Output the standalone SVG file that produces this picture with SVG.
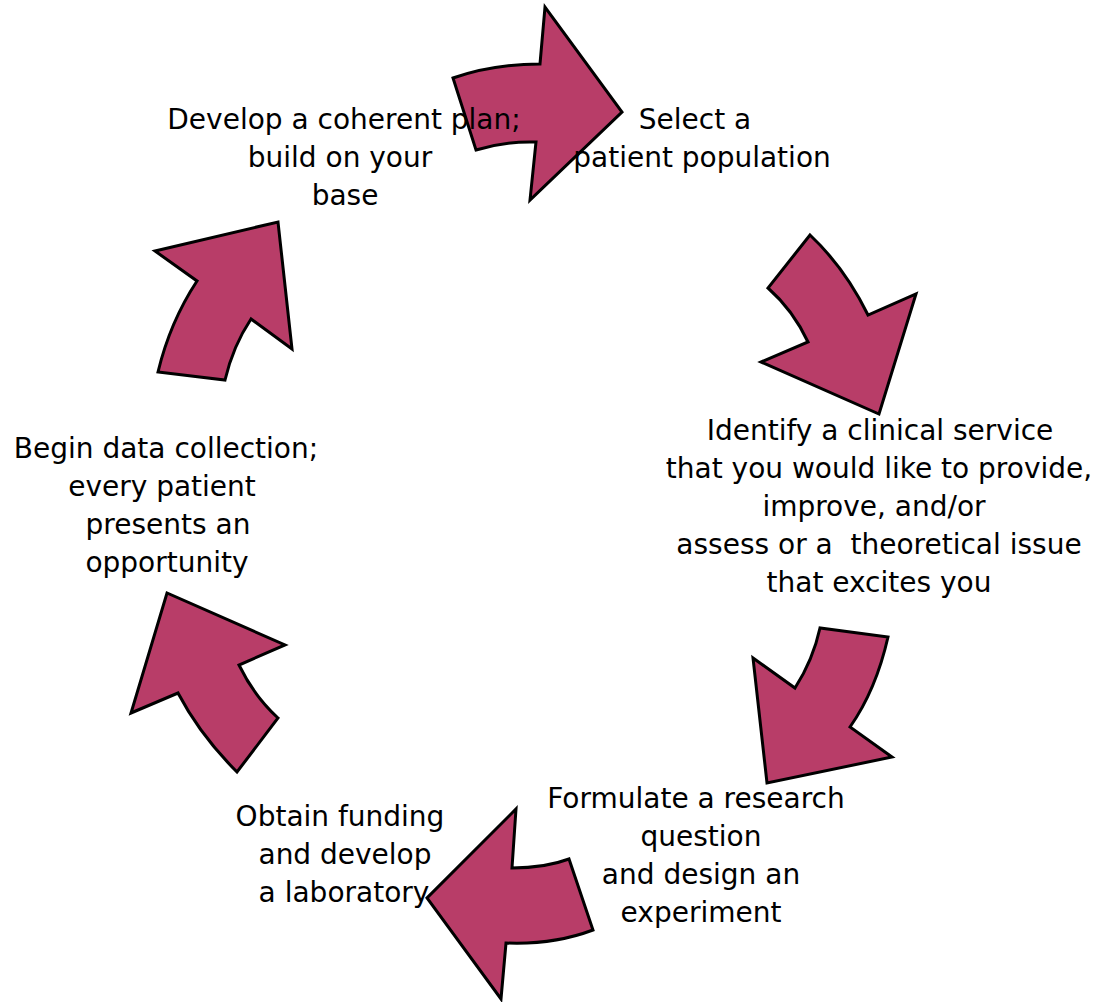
<svg xmlns="http://www.w3.org/2000/svg" width="1099" height="1002" viewBox="0 0 1099 1002">
<style>
.arr{fill:#B83D68;stroke:#000;stroke-width:3;stroke-linejoin:miter}
.t{font-family:"DejaVu Sans","Liberation Sans",sans-serif;font-size:28px;fill:#000;text-anchor:middle}
</style>
<rect width="1099" height="1002" fill="#fff"/>
<g id="connectors">
<path class="arr" d="M453,78 Q493,64 540,64 L545,7 L622,112 L530,200 L536,142 Q505,141 476,150 Z"/>
<path class="arr" d="M810,235 Q845,268 868,315 L916,294 L879,414 L761,362 L808,342 Q793,310 768,288 Z"/>
<path class="arr" d="M888,637 Q876,690 850,727 L892,757 L767,783 L753,658 L795,688 Q813,660 820,628 Z"/>
<path class="arr" d="M593,930 Q553,945 506,943 L501,999 L427,898 L516,809 L512,868 Q545,868 569,859 Z"/>
<path class="arr" d="M237,772 Q200,735 178,693 L131,713 L167,593 L285,645 L239,665 Q254,696 278,718 Z"/>
<path class="arr" d="M158,372 Q170,322 197,281 L155,251 L278,222 L292,349 L251,319 Q233,346 225,380 Z"/>
</g>
<g id="n1"><text class="t" x="344" y="129">Develop a coherent plan;</text><text class="t" x="340" y="167">build on your</text><text class="t" x="345" y="205">base</text></g>
<g id="n2"><text class="t" x="695" y="129">Select a</text><text class="t" x="702" y="167">patient population</text></g>
<g id="n3"><text class="t" x="880" y="440">Identify a clinical service</text><text class="t" x="879" y="478">that you would like to provide,</text><text class="t" x="874" y="516">improve, and/or</text><text class="t" x="879" y="554" xml:space="preserve">assess or a  theoretical issue</text><text class="t" x="879" y="592">that excites you</text></g>
<g id="n4"><text class="t" x="696" y="808">Formulate a research</text><text class="t" x="701" y="846">question</text><text class="t" x="701" y="884">and design an</text><text class="t" x="701" y="922">experiment</text></g>
<g id="n5"><text class="t" x="340" y="826">Obtain funding</text><text class="t" x="345" y="864">and develop</text><text class="t" x="344" y="902">a laboratory</text></g>
<g id="n6"><text class="t" x="166" y="458">Begin data collection;</text><text class="t" x="162" y="496">every patient</text><text class="t" x="168" y="534">presents an</text><text class="t" x="167" y="572">opportunity</text></g>
</svg>
